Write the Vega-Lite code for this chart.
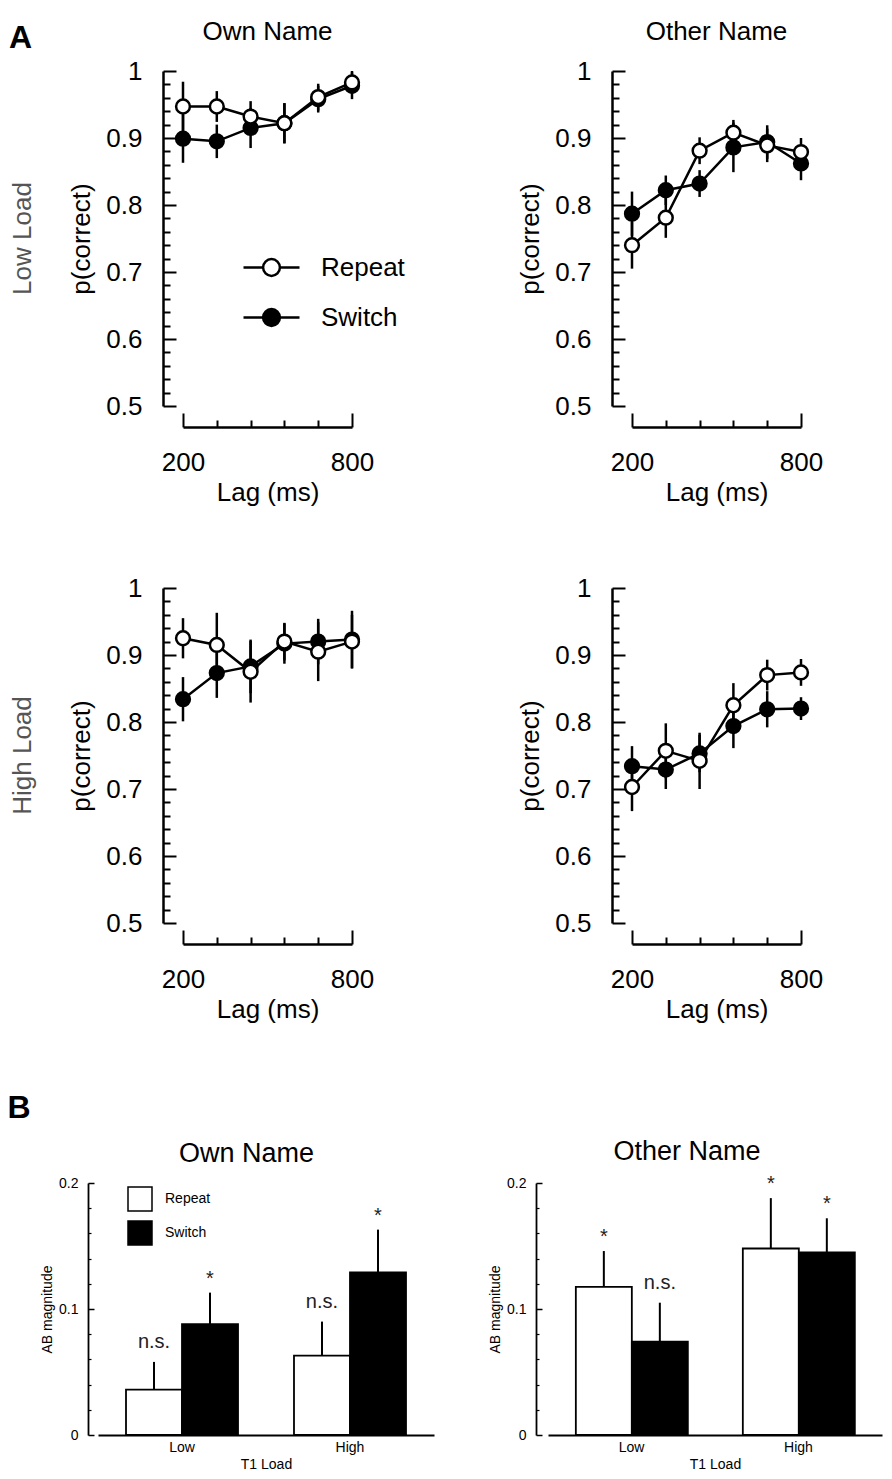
{
  "$schema": "https://vega.github.io/schema/vega-lite/v6.json",
  "background": "white",
  "padding": {"left": 7, "top": 19, "right": 5, "bottom": 5},
  "config": {
    "font": "Liberation Sans",
    "view": {"stroke": null},
    "axis": {"grid": false, "domainColor": "black", "tickColor": "black", "labelColor": "black", "titleColor": "black", "titleFontWeight": "normal"},
    "header": {"labelColor": "black"},
    "title": {"color": "black"}
  },
  "datasets": {
    "lines": [
      {"n": "Own Name", "load": "Low Load", "cond": "Switch", "lag": 200, "p": 0.899, "lo": 0.863, "hi": 0.935},
      {"n": "Own Name", "load": "Low Load", "cond": "Switch", "lag": 320, "p": 0.895, "lo": 0.870, "hi": 0.920},
      {"n": "Own Name", "load": "Low Load", "cond": "Switch", "lag": 440, "p": 0.915, "lo": 0.885, "hi": 0.945},
      {"n": "Own Name", "load": "Low Load", "cond": "Switch", "lag": 560, "p": 0.922, "lo": 0.892, "hi": 0.952},
      {"n": "Own Name", "load": "Low Load", "cond": "Switch", "lag": 680, "p": 0.958, "lo": 0.938, "hi": 0.978},
      {"n": "Own Name", "load": "Low Load", "cond": "Switch", "lag": 800, "p": 0.978, "lo": 0.958, "hi": 0.998},
      {"n": "Other Name", "load": "Low Load", "cond": "Switch", "lag": 200, "p": 0.787, "lo": 0.754, "hi": 0.820},
      {"n": "Other Name", "load": "Low Load", "cond": "Switch", "lag": 320, "p": 0.822, "lo": 0.800, "hi": 0.844},
      {"n": "Other Name", "load": "Low Load", "cond": "Switch", "lag": 440, "p": 0.832, "lo": 0.812, "hi": 0.852},
      {"n": "Other Name", "load": "Low Load", "cond": "Switch", "lag": 560, "p": 0.886, "lo": 0.849, "hi": 0.923},
      {"n": "Other Name", "load": "Low Load", "cond": "Switch", "lag": 680, "p": 0.894, "lo": 0.869, "hi": 0.919},
      {"n": "Other Name", "load": "Low Load", "cond": "Switch", "lag": 800, "p": 0.862, "lo": 0.837, "hi": 0.887},
      {"n": "Own Name", "load": "High Load", "cond": "Switch", "lag": 200, "p": 0.834, "lo": 0.801, "hi": 0.867},
      {"n": "Own Name", "load": "High Load", "cond": "Switch", "lag": 320, "p": 0.873, "lo": 0.836, "hi": 0.910},
      {"n": "Own Name", "load": "High Load", "cond": "Switch", "lag": 440, "p": 0.883, "lo": 0.843, "hi": 0.923},
      {"n": "Own Name", "load": "High Load", "cond": "Switch", "lag": 560, "p": 0.917, "lo": 0.887, "hi": 0.947},
      {"n": "Own Name", "load": "High Load", "cond": "Switch", "lag": 680, "p": 0.920, "lo": 0.886, "hi": 0.954},
      {"n": "Own Name", "load": "High Load", "cond": "Switch", "lag": 800, "p": 0.923, "lo": 0.880, "hi": 0.966},
      {"n": "Other Name", "load": "High Load", "cond": "Switch", "lag": 200, "p": 0.734, "lo": 0.704, "hi": 0.764},
      {"n": "Other Name", "load": "High Load", "cond": "Switch", "lag": 320, "p": 0.729, "lo": 0.700, "hi": 0.758},
      {"n": "Other Name", "load": "High Load", "cond": "Switch", "lag": 440, "p": 0.753, "lo": 0.725, "hi": 0.781},
      {"n": "Other Name", "load": "High Load", "cond": "Switch", "lag": 560, "p": 0.794, "lo": 0.761, "hi": 0.827},
      {"n": "Other Name", "load": "High Load", "cond": "Switch", "lag": 680, "p": 0.819, "lo": 0.792, "hi": 0.846},
      {"n": "Other Name", "load": "High Load", "cond": "Switch", "lag": 800, "p": 0.820, "lo": 0.803, "hi": 0.837},
      {"n": "Own Name", "load": "Low Load", "cond": "Repeat", "lag": 200, "p": 0.947, "lo": 0.910, "hi": 0.984},
      {"n": "Own Name", "load": "Low Load", "cond": "Repeat", "lag": 320, "p": 0.947, "lo": 0.924, "hi": 0.970},
      {"n": "Own Name", "load": "Low Load", "cond": "Repeat", "lag": 440, "p": 0.932, "lo": 0.909, "hi": 0.955},
      {"n": "Own Name", "load": "Low Load", "cond": "Repeat", "lag": 560, "p": 0.922, "lo": 0.892, "hi": 0.952},
      {"n": "Own Name", "load": "Low Load", "cond": "Repeat", "lag": 680, "p": 0.961, "lo": 0.941, "hi": 0.981},
      {"n": "Own Name", "load": "Low Load", "cond": "Repeat", "lag": 800, "p": 0.983, "lo": 0.966, "hi": 1.000},
      {"n": "Other Name", "load": "Low Load", "cond": "Repeat", "lag": 200, "p": 0.740, "lo": 0.705, "hi": 0.775},
      {"n": "Other Name", "load": "Low Load", "cond": "Repeat", "lag": 320, "p": 0.781, "lo": 0.751, "hi": 0.811},
      {"n": "Other Name", "load": "Low Load", "cond": "Repeat", "lag": 440, "p": 0.881, "lo": 0.861, "hi": 0.901},
      {"n": "Other Name", "load": "Low Load", "cond": "Repeat", "lag": 560, "p": 0.908, "lo": 0.889, "hi": 0.927},
      {"n": "Other Name", "load": "Low Load", "cond": "Repeat", "lag": 680, "p": 0.889, "lo": 0.864, "hi": 0.914},
      {"n": "Other Name", "load": "Low Load", "cond": "Repeat", "lag": 800, "p": 0.879, "lo": 0.858, "hi": 0.900},
      {"n": "Own Name", "load": "High Load", "cond": "Repeat", "lag": 200, "p": 0.925, "lo": 0.895, "hi": 0.955},
      {"n": "Own Name", "load": "High Load", "cond": "Repeat", "lag": 320, "p": 0.915, "lo": 0.867, "hi": 0.963},
      {"n": "Own Name", "load": "High Load", "cond": "Repeat", "lag": 440, "p": 0.875, "lo": 0.829, "hi": 0.921},
      {"n": "Own Name", "load": "High Load", "cond": "Repeat", "lag": 560, "p": 0.920, "lo": 0.892, "hi": 0.948},
      {"n": "Own Name", "load": "High Load", "cond": "Repeat", "lag": 680, "p": 0.905, "lo": 0.861, "hi": 0.949},
      {"n": "Own Name", "load": "High Load", "cond": "Repeat", "lag": 800, "p": 0.920, "lo": 0.880, "hi": 0.960},
      {"n": "Other Name", "load": "High Load", "cond": "Repeat", "lag": 200, "p": 0.703, "lo": 0.667, "hi": 0.739},
      {"n": "Other Name", "load": "High Load", "cond": "Repeat", "lag": 320, "p": 0.757, "lo": 0.716, "hi": 0.798},
      {"n": "Other Name", "load": "High Load", "cond": "Repeat", "lag": 440, "p": 0.742, "lo": 0.700, "hi": 0.784},
      {"n": "Other Name", "load": "High Load", "cond": "Repeat", "lag": 560, "p": 0.825, "lo": 0.792, "hi": 0.858},
      {"n": "Other Name", "load": "High Load", "cond": "Repeat", "lag": 680, "p": 0.870, "lo": 0.847, "hi": 0.893},
      {"n": "Other Name", "load": "High Load", "cond": "Repeat", "lag": 800, "p": 0.874, "lo": 0.854, "hi": 0.894}
    ],
    "bars": [
      {"n": "Own Name", "load": "Low", "cond": "Repeat", "v": 0.036, "hi": 0.058, "sig": "n.s."},
      {"n": "Own Name", "load": "Low", "cond": "Switch", "v": 0.088, "hi": 0.113, "sig": "*"},
      {"n": "Own Name", "load": "High", "cond": "Repeat", "v": 0.063, "hi": 0.090, "sig": "n.s."},
      {"n": "Own Name", "load": "High", "cond": "Switch", "v": 0.129, "hi": 0.163, "sig": "*"},
      {"n": "Other Name", "load": "Low", "cond": "Repeat", "v": 0.1175, "hi": 0.146, "sig": "*"},
      {"n": "Other Name", "load": "Low", "cond": "Switch", "v": 0.074, "hi": 0.105, "sig": "n.s."},
      {"n": "Other Name", "load": "High", "cond": "Repeat", "v": 0.148, "hi": 0.188, "sig": "*"},
      {"n": "Other Name", "load": "High", "cond": "Switch", "v": 0.145, "hi": 0.172, "sig": "*"}
    ]
  },
  "spacing": 70,
  "vconcat": [
    {
      "data": {"name": "lines"},
      "title": {"text": "A", "anchor": "start", "fontSize": 32, "fontWeight": "bold", "offset": -36, "dx": -1},
      "facet": {
        "row": {"field": "load", "type": "nominal", "sort": ["Low Load", "High Load"],
                "header": {"title": null, "labelFontSize": 26, "labelColor": "#555555", "labelPadding": 32}},
        "column": {"field": "n", "type": "nominal", "sort": ["Own Name", "Other Name"],
                   "header": {"title": null, "labelFontSize": 26, "labelPadding": 13}}
      },
      "spacing": {"row": 70, "column": 143},
      "resolve": {"axis": {"x": "independent", "y": "independent"}},
      "spec": {
        "width": 169,
        "height": 335,
        "resolve": {"axis": {"x": "independent", "y": "independent"}},
        "layer": [
          {
            "mark": {"type": "rule", "strokeWidth": 2.5, "color": "black"},
            "encoding": {
              "x": {"field": "lag", "type": "quantitative",
                    "scale": {"domain": [200, 800], "nice": false, "zero": false},
                    "axis": {"orient": "bottom", "values": [200, 800], "tickSize": -14, "tickWidth": 2, "domainWidth": 2.5, "offset": 21,
                             "labelPadding": 36, "labelFontSize": 26, "labelFlush": false, "labelOverlap": false, "format": "d",
                             "title": "Lag (ms)", "titleFontSize": 26, "titlePadding": 4}},
              "y": {"field": "lo", "type": "quantitative",
                    "scale": {"domain": [0.5, 1], "nice": false, "zero": false},
                    "axis": {"orient": "left", "values": [0.5, 0.6, 0.7, 0.8, 0.9, 1], "tickSize": -13, "tickWidth": 2, "domainWidth": 2.5, "offset": 20,
                             "labelPadding": 34, "labelFontSize": 26, "labelOverlap": false, "format": "~g",
                             "title": "p(correct)", "titleFontSize": 26, "titlePadding": 11}},
              "y2": {"field": "hi"}
            }
          },
          {
            "mark": {"type": "line", "strokeWidth": 2.5, "color": "black"},
            "encoding": {
              "x": {"field": "lag", "type": "quantitative",
                    "axis": {"orient": "bottom", "values": [320, 440, 560, 680], "tickSize": -7, "tickWidth": 2, "domain": false, "labels": false, "title": null, "offset": 21}},
              "y": {"field": "p", "type": "quantitative",
                    "axis": {"orient": "left", "values": [0.52, 0.54, 0.56, 0.58, 0.62, 0.64, 0.66, 0.68, 0.72, 0.74, 0.76, 0.78, 0.82, 0.84, 0.86, 0.88, 0.92, 0.94, 0.96, 0.98],
                             "tickSize": -7, "tickWidth": 2, "domain": false, "labels": false, "title": null, "offset": 20}},
              "detail": {"field": "cond"}
            }
          },
          {
            "mark": {"type": "point", "filled": true, "stroke": "black", "strokeWidth": 2.5, "size": 190, "opacity": 1},
            "encoding": {
              "x": {"field": "lag", "type": "quantitative", "axis": null},
              "y": {"field": "p", "type": "quantitative", "axis": null},
              "fill": {"field": "cond", "type": "nominal",
                       "scale": {"domain": ["Repeat", "Switch"], "range": ["white", "black"]},
                       "legend": {"orient": "none", "legendX": 59, "legendY": 167, "title": null,
                                  "symbolType": "M-1,0H-0.3M0.3,0H1M0.3,0A0.3,0.3,0,1,1,-0.3,0A0.3,0.3,0,1,1,0.3,0Z",
                                  "symbolSize": 3136, "symbolStrokeColor": "black", "symbolStrokeWidth": 2.5,
                                  "labelFontSize": 26, "labelOffset": 20, "rowPadding": 7}}
            }
          }
        ]
      }
    },
    {
      "data": {"name": "bars"},
      "title": {"text": "B", "anchor": "start", "fontSize": 32, "fontWeight": "bold", "offset": 13, "dx": -33},
      "spacing": -31,
      "hconcat": [
        {
          "title": {"text": "Own Name", "fontSize": 27, "fontWeight": "normal", "offset": 8, "dx": -62},
          "width": 251,
          "height": 252,
          "transform": [{"filter": {"field": "n", "equal": "Own Name"}}],
          "encoding": {
            "x": {"field": "load", "type": "nominal", "sort": ["Low", "High"],
                  "scale": {"range": [-85, 251], "paddingInner": 0.3333, "paddingOuter": 0.1667},
                  "axis": {"orient": "bottom", "title": "T1 Load", "titleFontSize": 14, "labelFontSize": 14, "labelAngle": 0, "ticks": false,
                           "domainWidth": 2, "labelPadding": 5, "titlePadding": 3}},
            "xOffset": {"field": "cond", "type": "nominal", "sort": ["Repeat", "Switch"], "scale": {"paddingInner": 0, "paddingOuter": 0}}
          },
          "resolve": {"axis": {"y": "independent"}},
          "layer": [
            {
              "mark": {"type": "rule", "strokeWidth": 2, "color": "black"},
              "encoding": {
                "y": {"field": "v", "type": "quantitative", "scale": {"domain": [0, 0.2], "nice": false},
                      "axis": {"orient": "left", "values": [0.02, 0.04, 0.06, 0.08, 0.12, 0.14, 0.16, 0.18], "tickSize": -3, "tickWidth": 1.2,
                               "domain": false, "labels": false, "title": null, "offset": 95}},
                "y2": {"field": "hi"}
              }
            },
            {
              "mark": {"type": "bar", "stroke": "black", "strokeWidth": 1.8},
              "encoding": {
                "y": {"field": "v", "type": "quantitative",
                      "axis": {"orient": "left", "values": [0, 0.1, 0.2], "tickSize": -6, "tickWidth": 1.5, "domainWidth": 1.8, "offset": 95,
                               "labelFontSize": 14, "labelPadding": 16, "format": "~g", "labelOverlap": false,
                               "title": "AB magnitude", "titleFontSize": 14, "titlePadding": 4}},
                "color": {"field": "cond", "type": "nominal",
                          "scale": {"range": ["white", "black"]},
                          "legend": {"orient": "none", "legendX": -56, "legendY": 1115, "title": null,
                                     "symbolType": "square", "symbolSize": 576, "symbolStrokeColor": "black", "symbolStrokeWidth": 1.5,
                                     "labelFontSize": 14, "labelOffset": 12, "rowPadding": 4}}
              }
            },
            {
              "transform": [{"filter": "datum.sig === '*'"}],
              "mark": {"type": "text", "fontSize": 20, "dy": -8, "baseline": "alphabetic", "color": "#222222"},
              "encoding": {"y": {"field": "hi", "type": "quantitative", "axis": null}, "text": {"field": "sig"}}
            },
            {
              "transform": [{"filter": "datum.sig === 'n.s.'"}],
              "mark": {"type": "text", "fontSize": 20, "dy": -14, "baseline": "alphabetic", "color": "#222222"},
              "encoding": {"y": {"field": "hi", "type": "quantitative", "axis": null}, "text": {"field": "sig"}}
            }
          ]
        },
        {
          "title": {"text": "Other Name", "fontSize": 27, "fontWeight": "normal", "offset": 8, "dx": -28},
          "width": 334,
          "height": 252,
          "transform": [{"filter": {"field": "n", "equal": "Other Name"}}],
          "encoding": {
            "x": {"field": "load", "type": "nominal", "sort": ["Low", "High"],
                  "scale": {"paddingInner": 0.3333, "paddingOuter": 0.1667},
                  "axis": {"orient": "bottom", "title": "T1 Load", "titleFontSize": 14, "labelFontSize": 14, "labelAngle": 0, "ticks": false,
                           "domainWidth": 2, "labelPadding": 5, "titlePadding": 3}},
            "xOffset": {"field": "cond", "type": "nominal", "sort": ["Repeat", "Switch"], "scale": {"paddingInner": 0, "paddingOuter": 0}}
          },
          "resolve": {"axis": {"y": "independent"}},
          "layer": [
            {
              "mark": {"type": "rule", "strokeWidth": 2, "color": "black"},
              "encoding": {
                "y": {"field": "v", "type": "quantitative", "scale": {"domain": [0, 0.2], "nice": false},
                      "axis": {"orient": "left", "values": [0.02, 0.04, 0.06, 0.08, 0.12, 0.14, 0.16, 0.18], "tickSize": -3, "tickWidth": 1.2,
                               "domain": false, "labels": false, "title": null, "offset": 12}},
                "y2": {"field": "hi"}
              }
            },
            {
              "mark": {"type": "bar", "stroke": "black", "strokeWidth": 1.8},
              "encoding": {
                "y": {"field": "v", "type": "quantitative",
                      "axis": {"orient": "left", "values": [0, 0.1, 0.2], "tickSize": -6, "tickWidth": 1.5, "domainWidth": 1.8, "offset": 12,
                               "labelFontSize": 14, "labelPadding": 16, "format": "~g", "labelOverlap": false,
                               "title": "AB magnitude", "titleFontSize": 14, "titlePadding": 4}},
                "color": {"field": "cond", "type": "nominal", "legend": null}
              }
            },
            {
              "transform": [{"filter": "datum.sig === '*'"}],
              "mark": {"type": "text", "fontSize": 20, "dy": -8, "baseline": "alphabetic", "color": "#222222"},
              "encoding": {"y": {"field": "hi", "type": "quantitative", "axis": null}, "text": {"field": "sig"}}
            },
            {
              "transform": [{"filter": "datum.sig === 'n.s.'"}],
              "mark": {"type": "text", "fontSize": 20, "dy": -14, "baseline": "alphabetic", "color": "#222222"},
              "encoding": {"y": {"field": "hi", "type": "quantitative", "axis": null}, "text": {"field": "sig"}}
            }
          ]
        }
      ]
    }
  ]
}
